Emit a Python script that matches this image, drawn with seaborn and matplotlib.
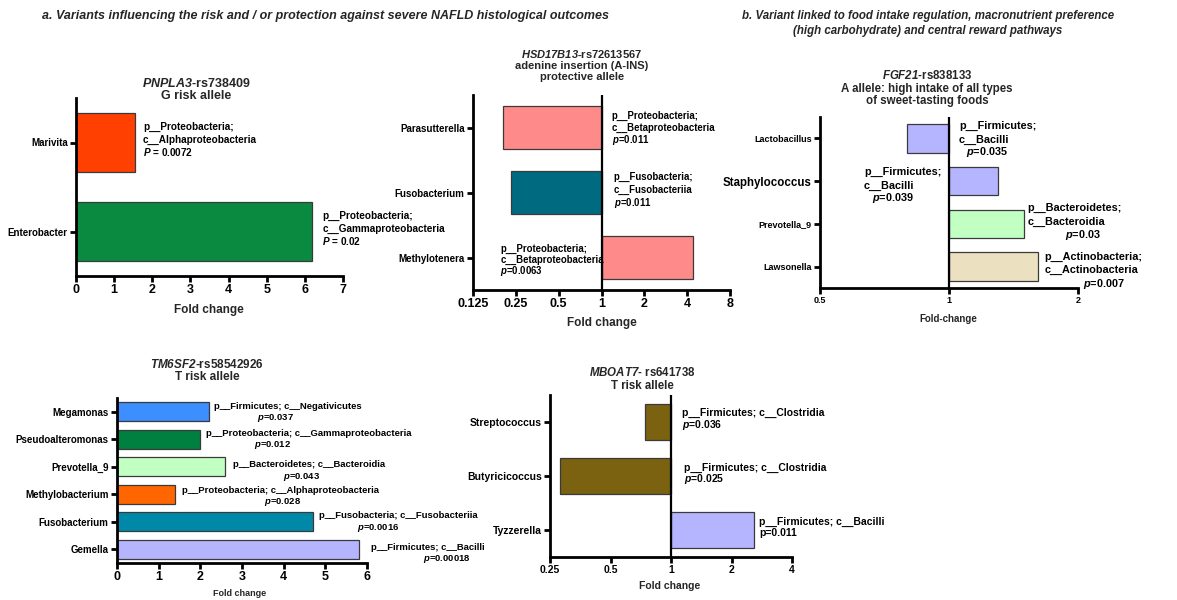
import numpy as np
import pandas as pd
import matplotlib
matplotlib.use("Agg")
import matplotlib.pyplot as plt
import seaborn as sns

# ---------------- data ----------------
p1_taxa = ["Marivita", "Enterobacter"]
p1_fc = [1.55, 6.2]
p1_colors = ["#FF4000", "#0A8A40"]
p1_phylum = ["p__Proteobacteria;", "p__Proteobacteria;"]
p1_class = ["c__Alphaproteobacteria", "c__Gammaproteobacteria"]
p1_p = ["0.0072", "0.02"]

p2_taxa = ["Parasutterella", "Fusobacterium", "Methylotenera"]
p2_fc = [0.203, 0.23, 4.4]
p2_colors = ["#FF8A8A", "#006A80", "#FF8A8A"]
p2_phylum = ["p__Proteobacteria;", "p__Fusobacteria;", "p__Proteobacteria;"]
p2_class = ["c__Betaproteobacteria", "c__Fusobacteriia", "c__Betaproteobacteria"]
p2_p = ["0.011", "0.011", "0.0063"]
p2_ticks = [0.125, 0.25, 0.5, 1, 2, 4, 8]

p3_taxa = ["Lactobacillus", "Staphylococcus", "Prevotella_9", "Lawsonella"]
p3_fc = [0.80, 1.30, 1.50, 1.61]
p3_colors = ["#B4B4FF", "#B4B4FF", "#C2FFC2", "#EBE0C0"]
p3_phylum = ["p__Firmicutes;", "p__Firmicutes;", "p__Bacteroidetes;", "p__Actinobacteria;"]
p3_class = ["c__Bacilli", "c__Bacilli", "c__Bacteroidia", "c__Actinobacteria"]
p3_p = ["0.035", "0.039", "0.03", "0.007"]
p3_ticks = [0.5, 1, 2]

p4_taxa = ["Megamonas", "Pseudoalteromonas", "Prevotella_9", "Methylobacterium",
           "Fusobacterium", "Gemella"]
p4_fc = [2.2, 2.0, 2.6, 1.4, 4.7, 5.8]
p4_colors = ["#3D8EFF", "#008040", "#C2FFC2", "#FF6600", "#0088A8", "#B4B4FF"]
p4_tax = ["p__Firmicutes; c__Negativicutes", "p__Proteobacteria; c__Gammaproteobacteria",
          "p__Bacteroidetes; c__Bacteroidia", "p__Proteobacteria; c__Alphaproteobacteria",
          "p__Fusobacteria; c__Fusobacteriia", "p__Firmicutes; c__Bacilli"]
p4_p = ["0.037", "0.012", "0.043", "0.028", "0.0016", "0.00018"]

p5_taxa = ["Streptococcus", "Butyricicoccus", "Tyzzerella"]
p5_fc = [0.74, 0.28, 2.6]
p5_colors = ["#7A6210", "#7A6210", "#B4B4FF"]
p5_tax = ["p__Firmicutes; c__Clostridia", "p__Firmicutes; c__Clostridia",
          "p__Firmicutes; c__Bacilli"]
p5_p = ["$\\it{p}$=0.036", "$\\it{p}$=0.025", "p=0.011"]
p5_ticks = [0.25, 0.5, 1, 2, 4]

# ---------------- style ----------------
sns.set_theme(style="white")
REG = ["Liberation Sans", "DejaVu Sans"]
plt.rcParams["font.family"] = REG
plt.rcParams["font.weight"] = "bold"
plt.rcParams["mathtext.fontset"] = "custom"
plt.rcParams["mathtext.it"] = "Liberation Sans:italic:bold"
plt.rcParams["mathtext.rm"] = "Liberation Sans:italic:bold"
plt.rcParams["mathtext.bf"] = "Liberation Sans:italic:bold"

W, H = 1177, 600
fig = plt.figure(figsize=(W / 100, H / 100), dpi=100)
PT = 0.72  # points per pixel


def add_ax(x0, y0, x1, y1):
    return fig.add_axes([x0 / W, 1 - y1 / H, (x1 - x0) / W, (y1 - y0) / H])


def ftext(x, y, s, **kw):
    kw.setdefault("ha", "center")
    kw.setdefault("va", "center")
    kw.setdefault("fontweight", "bold")
    fig.text(x / W, 1 - y / H, s, **kw)


def panel(ax, taxa, fc, colors, log, width, xlim, ticks, ysize, xsize, unity=False):
    vals = np.log2(fc) if log else np.asarray(fc, dtype=float)
    df = pd.DataFrame({"taxon": taxa, "value": vals})
    sns.barplot(data=df, x="value", y="taxon", hue="taxon", order=taxa, hue_order=taxa,
                palette=dict(zip(taxa, colors)), legend=False, orient="h",
                width=width, saturation=1, edgecolor="#3a3a3a", linewidth=0.9, ax=ax)
    ax.set_xlim(*xlim)
    if log:
        ax.set_xticks(np.log2(ticks))
    else:
        ax.set_xticks(ticks)
    ax.set_xticklabels([f"{t:g}" for t in ticks])
    ax.set_xlabel("")
    ax.set_ylabel("")
    for s in ["top", "right"]:
        ax.spines[s].set_visible(False)
    for s in ["left", "bottom"]:
        ax.spines[s].set_linewidth(2.0)
        ax.spines[s].set_color("black")
    ax.tick_params(axis="both", which="major", direction="out", length=4, width=2,
                   color="black", pad=2, left=True, bottom=True)
    ax.tick_params(axis="x", labelsize=xsize)
    ax.tick_params(axis="y", labelsize=ysize)
    for lab in ax.get_xticklabels() + ax.get_yticklabels():
        lab.set_fontweight("bold")
        lab.set_color("black")
    if unity:
        ax.axvline(0, color="black", lw=1.6, zorder=5)
    ax.set_facecolor("white")


def note(ax, x, y, lines, dx, dys, indents=None, size=6):
    for k, t in enumerate(lines):
        ind = indents[k] if indents else 0
        ax.annotate(t, xy=(x, y), xytext=((dx + ind) * PT, -dys[k] * PT),
                    textcoords="offset points", ha="left", va="center",
                    fontsize=size, fontweight="bold", color="black",
                    annotation_clip=False, zorder=6)


# ---------------- headers ----------------
ftext(42, 16, "a. Variants influencing the risk and / or protection against severe NAFLD histological outcomes",
      ha="left", fontsize=9, style="italic")
ftext(928, 23.5, "b. Variant linked to food intake regulation, macronutrient preference\n(high carbohydrate) and central reward pathways",
      fontsize=8.3, style="italic", linespacing=1.3)

# ---------------- panel 1 ----------------
ax1 = add_ax(76, 98, 343, 276)
panel(ax1, p1_taxa, p1_fc, p1_colors, False, 0.67, (0, 7), list(range(8)), 7, 9)
ftext(196, 89.5, "$\\it{PNPLA3}$-rs738409\nG risk allele", fontsize=9, linespacing=1.1)
ftext(209, 310, "Fold change", fontsize=8.5)
p1_dx = [8, 10]
for i in range(len(p1_taxa)):
    note(ax1, p1_fc[i], i, [p1_phylum[i], p1_class[i], "$\\it{P}$ = " + p1_p[i]],
         p1_dx[i], [-16, -3, 9.5], size=7.2)

# ---------------- panel 2 ----------------
ax2 = add_ax(473, 95, 730, 290)
panel(ax2, p2_taxa, p2_fc, p2_colors, True, 0.66, (np.log2(0.125), np.log2(8)), p2_ticks, 7, 9,
      unity=True)
ftext(582, 65, "$\\it{HSD17B13}$-rs72613567\nadenine insertion (A-INS)\nprotective allele",
      fontsize=8, linespacing=1.15)
ftext(602, 323, "Fold change", fontsize=8.5)
p2_dx = [10, 12, -101]
p2_dy = [[-11.5, 0.8, 12.5], [-15.5, -2.5, 10.5], [-9, 2, 13.5]]
for i in range(len(p2_taxa)):
    note(ax2, 0, i, [p2_phylum[i], p2_class[i], "$\\it{p}$=" + p2_p[i]],
         p2_dx[i], p2_dy[i], size=6.9)

# ---------------- panel 3 ----------------
ax3 = add_ax(820, 117, 1078, 288)
panel(ax3, p3_taxa, p3_fc, p3_colors, True, 0.67, (np.log2(0.5), np.log2(2)), p3_ticks, 6.5, 6.5,
      unity=True)
ax3.get_yticklabels()[1].set_fontsize(8.3)
ftext(927, 88, "$\\it{FGF21}$-rs838133\nA allele: high intake of all types\nof sweet-tasting foods",
      fontsize=8.3, linespacing=1.1)
ftext(948, 319, "Fold-change", fontsize=7)
p3_anchor = [0, 0, np.log2(p3_fc[2]), np.log2(p3_fc[3])]
p3_dx = [10, -85, 3, 7]
p3_dy = [[-12.5, 1.5, 14], [-8.7, 5, 17.3], [-15.7, -1.7, 11], [-10, 3.5, 17]]
p3_ind = [[0, 0, 7], [0, 0, 8], [0, 0, 38], [0, 0, 38]]
for i in range(len(p3_taxa)):
    note(ax3, p3_anchor[i], i, [p3_phylum[i], p3_class[i], "$\\it{p}$=" + p3_p[i]],
         p3_dx[i], p3_dy[i], p3_ind[i], size=7.8)

# ---------------- panel 4 ----------------
ax4 = add_ax(117, 398, 367, 563)
panel(ax4, p4_taxa, p4_fc, p4_colors, False, 0.69, (0, 6), list(range(7)), 7, 9)
ftext(207, 370.5, "$\\it{TM6SF2}$-rs58542926\nT risk allele", fontsize=8.5, linespacing=1.05)
ftext(240, 593, "Fold change", fontsize=6.5)
p4_dx = [5, 6, 8, 7, 6, 12]
p4_dy = [[-5.5, 6.5], [-6, 6], [-2, 10], [-4, 8], [-6, 6], [-2, 10]]
p4_ind = [[0, 43], [0, 48], [0, 50], [0, 82], [0, 38], [0, 52]]
for i in range(len(p4_taxa)):
    note(ax4, p4_fc[i], i, [p4_tax[i], "$\\it{p}$=" + p4_p[i]],
         p4_dx[i], p4_dy[i], p4_ind[i], size=6.8)

# ---------------- panel 5 ----------------
ax5 = add_ax(550, 395, 792, 557)
panel(ax5, p5_taxa, p5_fc, p5_colors, True, 0.67, (np.log2(0.25), np.log2(4)), p5_ticks, 7.5, 7.5,
      unity=True)
ftext(642, 379, "$\\it{MBOAT7}$- rs641738\nT risk allele", fontsize=8.3, linespacing=1.05)
ftext(670, 586, "Fold change", fontsize=7.5)
p5_anchor = [0, 0, np.log2(p5_fc[2])]
p5_dx = [11, 13, 5]
p5_dy = [[-9.5, 3.5], [-8.5, 3.5], [-8.5, 3.5]]
for i in range(len(p5_taxa)):
    note(ax5, p5_anchor[i], i, [p5_tax[i], p5_p[i]], p5_dx[i], p5_dy[i], size=7.5)

fig.savefig("out.png", dpi=100, facecolor="white")
